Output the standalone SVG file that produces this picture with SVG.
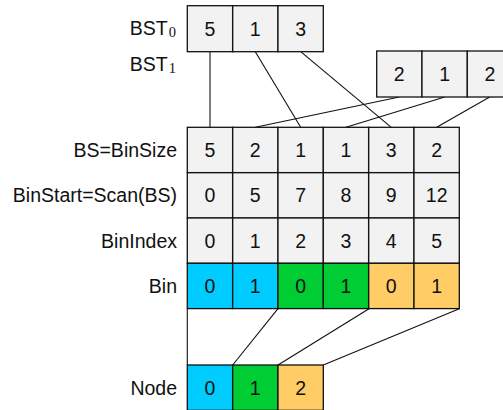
<svg xmlns="http://www.w3.org/2000/svg" width="503" height="410" viewBox="0 0 503 410">
  <style>
    .cell { fill: #f2f2f2; stroke: #111; stroke-width: 1.3; }
    .blue { fill: #00ccff; }
    .green { fill: #00cc33; }
    .orange { fill: #ffcc66; }
    .v { font-family: "Liberation Sans", Arial, sans-serif; font-size: 19.5px; fill: #111; text-anchor: middle; }
    .lbl { font-family: "Liberation Sans", Arial, sans-serif; font-size: 19.5px; fill: #111; text-anchor: end; }
    .sub { font-family: "Liberation Serif", "DejaVu Serif", serif; font-size: 14.5px; }
    .wire { stroke: #111; stroke-width: 1.1; fill: none; }
  </style>
  <rect width="503" height="410" fill="#fff"/>

  <!-- connectors -->
  <g id="connectors">
    <line class="wire" x1="210" y1="51.7" x2="210" y2="127.3" stroke="#555" stroke-width="1.5"/>
    <line class="wire" x1="255.3" y1="51.7" x2="300.7" y2="127.3"/>
    <line class="wire" x1="300.7" y1="51.7" x2="391.3" y2="127.3"/>
    <line class="wire" x1="399.3" y1="97" x2="255.3" y2="127.3"/>
    <line class="wire" x1="444.7" y1="97" x2="346" y2="127.3"/>
    <line class="wire" x1="489.7" y1="97" x2="436.7" y2="127.3"/>
    <line class="wire" x1="187.3" y1="308.7" x2="187.3" y2="365"/>
    <line class="wire" x1="278" y1="308.7" x2="232.7" y2="365"/>
    <line class="wire" x1="369" y1="308.7" x2="278" y2="365"/>
    <line class="wire" x1="459.3" y1="308.7" x2="323.3" y2="365"/>
  </g>

  <!-- BST0 -->
  <g id="bst0">
    <text class="lbl" x="176" y="35.3">BST<tspan class="sub" dx="1" dy="1.5">0</tspan></text>
    <rect class="cell" x="187.3" y="5.7" width="45.3" height="46"/>
    <rect class="cell" x="232.7" y="5.7" width="45.3" height="46"/>
    <rect class="cell" x="278" y="5.7" width="45.3" height="46"/>
    <text class="v" x="210" y="35.5">5</text>
    <text class="v" x="255.3" y="35.5">1</text>
    <text class="v" x="300.7" y="35.5">3</text>
  </g>

  <!-- BST1 -->
  <g id="bst1">
    <text class="lbl" x="176" y="71">BST<tspan class="sub" dx="1" dy="1.5">1</tspan></text>
    <rect class="cell" x="376.7" y="51" width="45.3" height="46"/>
    <rect class="cell" x="422" y="51" width="45.3" height="46"/>
    <rect class="cell" x="467.3" y="51" width="45.3" height="46"/>
    <text class="v" x="399.3" y="81">2</text>
    <text class="v" x="444.7" y="81">1</text>
    <text class="v" x="490" y="81">2</text>
  </g>

  <!-- BS = BinSize -->
  <g id="binsize">
    <text class="lbl" x="177" y="157">BS=BinSize</text>
    <rect class="cell" x="187.3" y="127.3" width="45.3" height="45.3"/>
    <rect class="cell" x="232.7" y="127.3" width="45.3" height="45.3"/>
    <rect class="cell" x="278" y="127.3" width="45.3" height="45.3"/>
    <rect class="cell" x="323.3" y="127.3" width="45.3" height="45.3"/>
    <rect class="cell" x="368.7" y="127.3" width="45.3" height="45.3"/>
    <rect class="cell" x="414" y="127.3" width="45.3" height="45.3"/>
    <text class="v" x="210" y="157">5</text>
    <text class="v" x="255.3" y="157">2</text>
    <text class="v" x="300.7" y="157">1</text>
    <text class="v" x="346" y="157">1</text>
    <text class="v" x="391.3" y="157">3</text>
    <text class="v" x="436.7" y="157">2</text>
  </g>

  <!-- BinStart = Scan(BS) -->
  <g id="binstart">
    <text class="lbl" x="177" y="202.3">BinStart=Scan(BS)</text>
    <rect class="cell" x="187.3" y="172.7" width="45.3" height="45.3"/>
    <rect class="cell" x="232.7" y="172.7" width="45.3" height="45.3"/>
    <rect class="cell" x="278" y="172.7" width="45.3" height="45.3"/>
    <rect class="cell" x="323.3" y="172.7" width="45.3" height="45.3"/>
    <rect class="cell" x="368.7" y="172.7" width="45.3" height="45.3"/>
    <rect class="cell" x="414" y="172.7" width="45.3" height="45.3"/>
    <text class="v" x="210" y="202.3">0</text>
    <text class="v" x="255.3" y="202.3">5</text>
    <text class="v" x="300.7" y="202.3">7</text>
    <text class="v" x="346" y="202.3">8</text>
    <text class="v" x="391.3" y="202.3">9</text>
    <text class="v" x="436.7" y="202.3">12</text>
  </g>

  <!-- BinIndex -->
  <g id="binindex">
    <text class="lbl" x="177" y="247.6">BinIndex</text>
    <rect class="cell" x="187.3" y="218" width="45.3" height="45.3"/>
    <rect class="cell" x="232.7" y="218" width="45.3" height="45.3"/>
    <rect class="cell" x="278" y="218" width="45.3" height="45.3"/>
    <rect class="cell" x="323.3" y="218" width="45.3" height="45.3"/>
    <rect class="cell" x="368.7" y="218" width="45.3" height="45.3"/>
    <rect class="cell" x="414" y="218" width="45.3" height="45.3"/>
    <text class="v" x="210" y="247.6">0</text>
    <text class="v" x="255.3" y="247.6">1</text>
    <text class="v" x="300.7" y="247.6">2</text>
    <text class="v" x="346" y="247.6">3</text>
    <text class="v" x="391.3" y="247.6">4</text>
    <text class="v" x="436.7" y="247.6">5</text>
  </g>

  <!-- Bin -->
  <g id="bin">
    <text class="lbl" x="177" y="293">Bin</text>
    <rect class="cell blue" x="187.3" y="263.3" width="45.3" height="45.3"/>
    <rect class="cell blue" x="232.7" y="263.3" width="45.3" height="45.3"/>
    <rect class="cell green" x="278" y="263.3" width="45.3" height="45.3"/>
    <rect class="cell green" x="323.3" y="263.3" width="45.3" height="45.3"/>
    <rect class="cell orange" x="368.7" y="263.3" width="45.3" height="45.3"/>
    <rect class="cell orange" x="414" y="263.3" width="45.3" height="45.3"/>
    <text class="v" x="210" y="293">0</text>
    <text class="v" x="255.3" y="293">1</text>
    <text class="v" x="300.7" y="293">0</text>
    <text class="v" x="346" y="293">1</text>
    <text class="v" x="391.3" y="293">0</text>
    <text class="v" x="436.7" y="293">1</text>
  </g>

  <!-- Node -->
  <g id="node">
    <text class="lbl" x="177" y="394.5">Node</text>
    <rect class="cell blue" x="187.3" y="365" width="45.3" height="45.3"/>
    <rect class="cell green" x="232.7" y="365" width="45.3" height="45.3"/>
    <rect class="cell orange" x="278" y="365" width="45.3" height="45.3"/>
    <text class="v" x="210" y="394.5">0</text>
    <text class="v" x="255.3" y="394.5">1</text>
    <text class="v" x="300.7" y="394.5">2</text>
  </g>
</svg>
